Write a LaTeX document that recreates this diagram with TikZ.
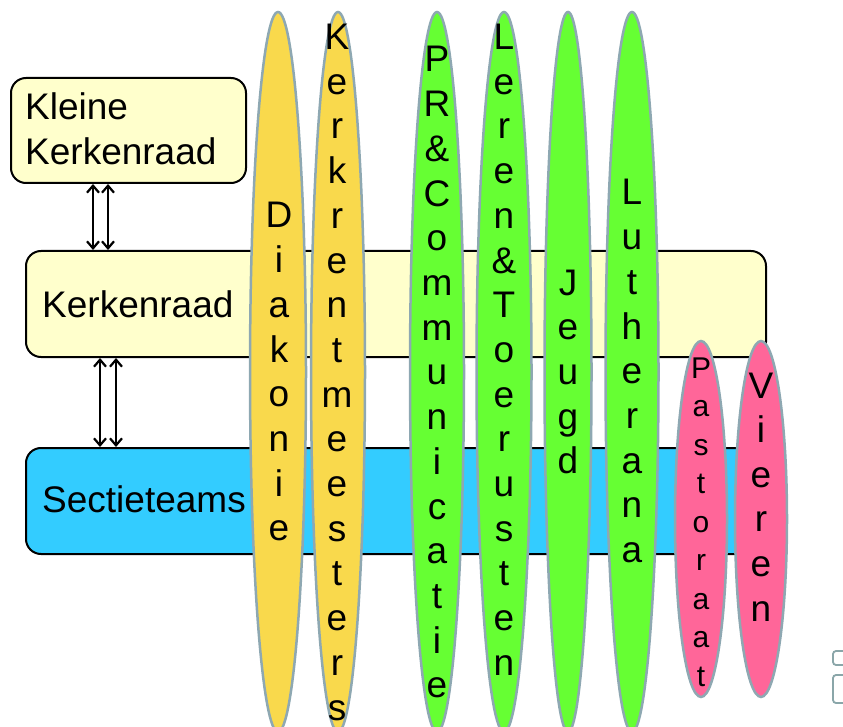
\documentclass[tikz,border=0pt]{standalone}
\usepackage{fontspec}
\setmainfont{Liberation Sans}
\usetikzlibrary{shapes.geometric,arrows.meta}
\definecolor{boxyellow}{HTML}{FFFFCC}
\definecolor{boxcyan}{HTML}{33CCFF}
\definecolor{ellyellow}{HTML}{F9D94C}
\definecolor{ellgreen}{HTML}{66FF33}
\definecolor{ellpink}{HTML}{FF6699}
\definecolor{edge}{HTML}{8EA8B2}
\definecolor{icon}{HTML}{8AA6A9}
\tikzset{
  orgbox/.style={draw=black, line width=2pt, rounded corners=15pt, inner sep=0pt, anchor=north west},
  ell/.style={ellipse, draw=edge, line width=2.5pt, inner sep=0pt, minimum height=720pt},
  smallell/.style={ellipse, draw=edge, line width=2.5pt, inner sep=0pt, minimum height=356pt, minimum width=52pt},
  letter/.style={inner sep=0pt, anchor=base},
  lbl/.style={inner sep=0pt, anchor=base west, font=\fontsize{37}{44}\selectfont},
  dblarrow/.style={line width=2.2pt, {Straight Barb[length=7pt,width=12pt]}-{Straight Barb[length=7pt,width=12pt]}},
}
\newcommand\vword[6]{%
  \foreach \l [count=\i from 0] in {#6}
    \node[letter] (#1-\i) at (#2, #3+\i*#4) {#5\l};%
}
\begin{document}
\begin{tikzpicture}[x=1pt,y=-1pt]
\useasboundingbox (0,0) rectangle (843,727);
% boxes
\node[orgbox, fill=boxyellow, minimum width=235pt, minimum height=105pt] (kk) at (10,77) {};
\node[orgbox, fill=boxyellow, minimum width=740pt, minimum height=106pt] (kr) at (25,250) {};
\node[orgbox, fill=boxcyan, minimum width=740pt, minimum height=106pt] (st) at (25,447) {};
\node[lbl] (kktxt1) at (25,120) {Kleine};
\node[lbl] (kktxt2) at (25,165) {Kerkenraad};
\node[lbl] (krtxt) at (42,317) {Kerkenraad};
\node[lbl] (sttxt) at (42,512) {Sectieteams};
% arrows
\draw[dblarrow] (93,0 |- kk.south) -- (93,0 |- kr.north);
\draw[dblarrow] (108,0 |- kk.south) -- (108,0 |- kr.north);
\draw[dblarrow] (100,0 |- kr.south) -- (100,0 |- st.north);
\draw[dblarrow] (116,0 |- kr.south) -- (116,0 |- st.north);
% ellipses
\node[ell, fill=ellyellow, minimum width=56pt] (diak) at (278,372) {};
\node[ell, fill=ellyellow, minimum width=54pt] (kerk) at (338,372) {};
\node[ell, fill=ellgreen, minimum width=54pt] (prc) at (437,372) {};
\node[ell, fill=ellgreen, minimum width=55pt] (leren) at (504,372) {};
\node[ell, fill=ellgreen, minimum width=47pt] (jeugd) at (568,372) {};
\node[ell, fill=ellgreen, minimum width=53pt] (luth) at (632,372) {};
\node[smallell, fill=ellpink] (past) at (701,519) {};
\node[smallell, fill=ellpink] (veren) at (761,519) {};
% vertical words
\def\bigf{\fontsize{37}{44}\selectfont}
\def\smallf{\fontsize{30}{36}\selectfont}
\vword{d}{279}{228}{44.7}{\bigf}{D,i,a,k,o,n,i,e}
\vword{k}{337}{49.5}{44.7}{\bigf}{K,e,r,k,r,e,n,t,m,e,e,s,t,e,r,s}
\vword{p}{437}{72}{44.7}{\bigf}{P,R,\&,C,o,m,m,u,n,i,c,a,t,i,e}
\vword{l}{504}{49.5}{44.7}{\bigf}{L,e,r,e,n,\&,T,o,e,r,u,s,t,e,n}
\vword{j}{568}{295}{44.7}{\bigf}{J,e,u,g,d}
\vword{u}{632}{205}{44.7}{\bigf}{L,u,t,h,e,r,a,n,a}
\vword{a}{701}{378}{38.5}{\smallf}{P,a,s,t,o,r,a,a,t}
\vword{v}{761}{398}{44.6}{\bigf}{V,i,e,r,e,n}
% corner icon
\draw[icon, line width=1.8pt, rounded corners=3pt] (850,651) -- (833,651) -- (833,665) -- (850,665);
\draw[icon, line width=1.8pt, rounded corners=3pt] (850,675) -- (833,675) -- (833,703) -- (850,703);
\end{tikzpicture}
\end{document}
